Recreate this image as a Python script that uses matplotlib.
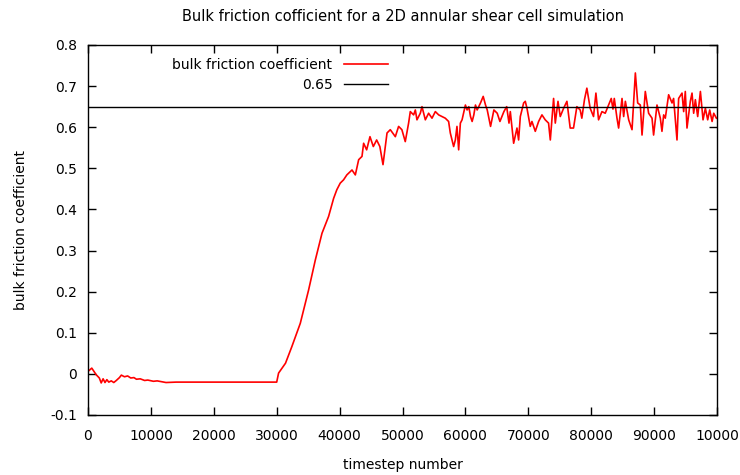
import matplotlib
matplotlib.use("Agg")
import matplotlib.pyplot as plt

# timestep vs bulk friction coefficient
timesteps = [
    0, 600, 1300, 1800, 2100, 2400, 2700, 3000, 3300, 3700, 4100, 4500, 5000,
    5300, 5800, 6300, 6800, 7300, 7700, 8300, 9000, 9500, 10400, 11000, 12400,
    14000, 30000, 30300, 31400, 32400, 33750, 35070, 36140, 37200, 38250,
    39050, 39560, 40100, 40630, 41150, 41430, 41970, 42500, 43030, 43560,
    43820, 44300, 44830, 45360, 45890, 46400, 46900, 47540, 48060, 48860,
    49380, 49900, 50440, 50970, 51240, 51770, 52040, 52300, 52830, 53100,
    53370, 53630, 54150, 54690, 55220, 55750, 56280, 56800, 57330, 57600,
    58130, 58400, 58660, 58930, 59200, 59470, 60000, 60270, 60540, 60810,
    61070, 61340, 61600, 61870, 62400, 62830, 63200, 63470, 64000, 64530,
    65060, 65490, 66120, 66560, 66930, 67140, 67670, 68200, 68460, 68730,
    69260, 69520, 69790, 70310, 70580, 71110, 71640, 72170, 72690, 73220,
    73500, 74020, 74290, 74720, 75080, 75610, 76140, 76660, 77190, 77720,
    78250, 78510, 78930, 79310, 79840, 80370, 80750, 81170, 81710, 82230,
    82760, 83190, 83460, 83670, 84100, 84360, 84900, 85160, 85430, 85960,
    86490, 87020, 87390, 87810, 88080, 88600, 89130, 89670, 89920, 90460,
    90990, 91250, 91520, 91780, 92310, 92850, 93100, 93640, 93900, 94440,
    94700, 94960, 95230, 95760, 96030, 96290, 96560, 96930, 97360, 97780,
    98150, 98520, 98840, 99220, 99480, 99900,
]
friction = [
    0.006, 0.014, -0.002, -0.010, -0.022, -0.012, -0.021, -0.014, -0.020,
    -0.017, -0.021, -0.016, -0.009, -0.003, -0.007, -0.005, -0.010, -0.009,
    -0.013, -0.012, -0.016, -0.015, -0.018, -0.017, -0.021, -0.020, -0.020,
    0.002, 0.026, 0.066, 0.123, 0.204, 0.277, 0.342, 0.383, 0.427, 0.448,
    0.464, 0.472, 0.484, 0.488, 0.496, 0.484, 0.521, 0.529, 0.561, 0.545,
    0.577, 0.553, 0.569, 0.553, 0.509, 0.586, 0.594, 0.577, 0.602, 0.594,
    0.565, 0.610, 0.638, 0.630, 0.642, 0.618, 0.634, 0.650, 0.634, 0.618,
    0.634, 0.622, 0.638, 0.630, 0.626, 0.622, 0.614, 0.586, 0.553, 0.569,
    0.602, 0.545, 0.610, 0.618, 0.654, 0.642, 0.650, 0.626, 0.614, 0.630,
    0.654, 0.642, 0.659, 0.675, 0.654, 0.642, 0.602, 0.642, 0.634, 0.614,
    0.638, 0.650, 0.610, 0.638, 0.561, 0.598, 0.569, 0.626, 0.659, 0.663,
    0.646, 0.602, 0.614, 0.590, 0.614, 0.630, 0.618, 0.610, 0.569, 0.670,
    0.610, 0.663, 0.626, 0.646, 0.663, 0.598, 0.598, 0.650, 0.642, 0.622,
    0.667, 0.695, 0.646, 0.626, 0.683, 0.618, 0.638, 0.634, 0.654, 0.670,
    0.644, 0.670, 0.622, 0.598, 0.670, 0.626, 0.663, 0.618, 0.594, 0.732,
    0.659, 0.654, 0.581, 0.687, 0.634, 0.622, 0.581, 0.654, 0.622, 0.590,
    0.630, 0.622, 0.679, 0.659, 0.670, 0.569, 0.670, 0.683, 0.638, 0.687,
    0.598, 0.663, 0.683, 0.634, 0.667, 0.626, 0.687, 0.618, 0.646, 0.618,
    0.642, 0.614, 0.634, 0.622,
]
ref_value = 0.65

xticks = list(range(0, 100001, 10000))
xtick_labels = ["0", "10000", "20000", "30000", "40000", "50000",
                "60000", "70000", "80000", "90000", "10000"]
yticks = [-0.1, 0, 0.1, 0.2, 0.3, 0.4, 0.5, 0.6, 0.7, 0.8]
ytick_labels = ["-0.1", "0", "0.1", "0.2", "0.3", "0.4", "0.5", "0.6", "0.7", "0.8"]

plt.rcParams['font.family'] = ['DejaVu Sans']
plt.rcParams['font.size'] = 10

fig = plt.figure(figsize=(7.4, 4.75), dpi=100)
ax = fig.add_axes([88 / 740, 60 / 475, 629 / 740, 370 / 475])

ax.plot(timesteps, friction, color='#ff0000', lw=1.2, label='bulk friction coefficient')
ax.axhline(ref_value, color='black', lw=1.0, label='0.65')

ax.set_xlim(0, 100000)
ax.set_ylim(-0.1, 0.8)
ax.set_xticks(xticks)
ax.set_xticklabels(xtick_labels)
ax.set_yticks(yticks)
ax.set_yticklabels(ytick_labels)
ax.tick_params(direction='in', length=6, width=1, top=True, right=True)
ax.tick_params(axis='y', pad=8)
ax.tick_params(axis='x', pad=10)
for s in ax.spines.values():
    s.set_linewidth(1)

ax.set_title('Bulk friction cofficient for a 2D annular shear cell simulation',
             pad=17, fontsize=10.5)
ax.set_xlabel('timestep number', labelpad=11)
ax.set_ylabel('bulk friction coefficient', labelpad=16)

ax.legend(loc='upper right', bbox_to_anchor=(388 / 740, 1 - 58 / 475),
          bbox_transform=fig.transFigure, frameon=False, markerfirst=False,
          handlelength=3.2, handletextpad=0.8, labelspacing=0.45,
          borderaxespad=0, borderpad=0)

plt.savefig('out.png', dpi=100)
plt.close()
